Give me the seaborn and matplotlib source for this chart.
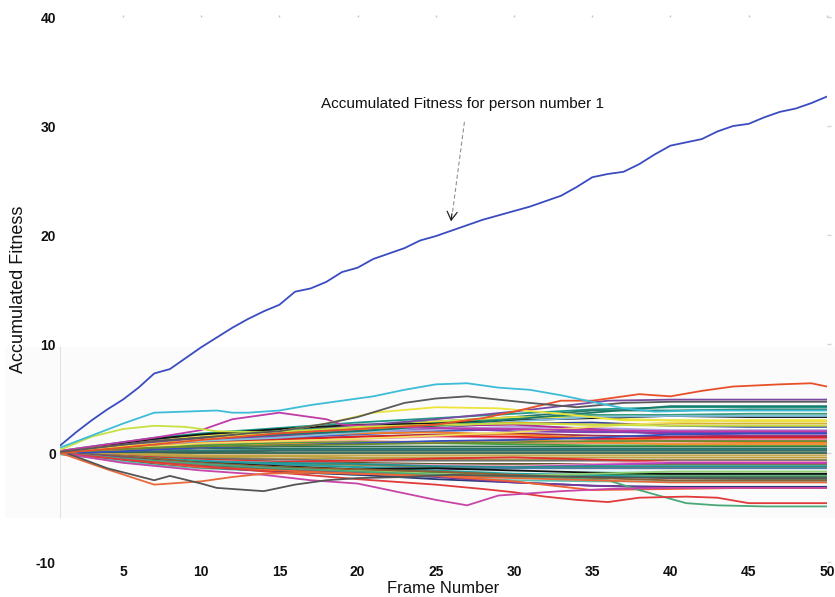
import matplotlib
matplotlib.use("Agg")
import matplotlib.pyplot as plt
from matplotlib.patches import Rectangle
import pandas as pd
import seaborn as sns

# ---- person 1: accumulated fitness for every frame ----
frames_all = list(range(1, 51))
person1_fitness = [0.7, 1.9, 3.0, 4.0, 4.9, 6.0, 7.3, 7.7, 8.7, 9.7,
                   10.6, 11.5, 12.3, 13.0, 13.6, 14.8, 15.1, 15.7, 16.6, 17.0,
                   17.8, 18.3, 18.8, 19.5, 19.9, 20.4, 20.9, 21.4, 21.8, 22.2,
                   22.6, 23.1, 23.6, 24.4, 25.3, 25.6, 25.8, 26.5, 27.4, 28.2,
                   28.5, 28.8, 29.5, 30.0, 30.2, 30.8, 31.3, 31.6, 32.1, 32.7]

# ---- people that stand out from the crowd ----
cyan_frames = [1, 3, 5, 7, 9, 11, 12, 13, 15, 17, 19, 21, 23, 25, 27, 29, 31, 33, 35, 37, 39, 42, 46, 50]
cyan_values = [0.5, 1.6, 2.7, 3.7, 3.8, 3.9, 3.7, 3.7, 3.9, 4.4, 4.8, 5.2, 5.8, 6.3, 6.4, 6.0, 5.8, 5.3, 4.7, 4.1, 3.8, 3.9, 3.9, 3.9]

gray_top_frames = [1, 4, 7, 10, 13, 15, 18, 20, 23, 25, 27, 29, 31, 34, 37, 40, 45, 50]
gray_top_values = [0.1, 0.6, 1.1, 1.4, 1.8, 2.0, 2.7, 3.3, 4.6, 5.0, 5.2, 4.9, 4.6, 4.2, 4.6, 4.7, 4.7, 4.7]

red_top_frames = [1, 5, 10, 15, 20, 25, 28, 30, 33, 35, 36, 38, 40, 42, 44, 47, 49, 50]
red_top_values = [0.0, 0.5, 1.2, 1.8, 2.2, 2.6, 3.2, 3.8, 4.8, 4.8, 5.0, 5.4, 5.2, 5.7, 6.1, 6.3, 6.4, 6.1]

lime_frames = [1, 3, 5, 7, 9, 11, 14, 17, 20, 25, 30, 35, 40, 45, 50]
lime_values = [0.3, 1.5, 2.2, 2.5, 2.4, 2.0, 1.9, 2.1, 2.4, 2.6, 2.7, 2.6, 2.5, 2.5, 2.5]

yellow_frames = [1, 5, 10, 15, 18, 21, 25, 29, 33, 37, 40, 45, 50]
yellow_values = [0.0, 0.6, 1.2, 2.0, 2.7, 3.7, 4.2, 4.1, 3.6, 3.0, 3.0, 3.0, 3.0]

magenta_top_frames = [1, 4, 7, 10, 12, 15, 18, 19, 22, 25, 30, 35, 40, 45, 50]
magenta_top_values = [0.2, 0.8, 1.4, 2.1, 3.1, 3.7, 3.1, 2.6, 2.4, 2.3, 2.2, 2.1, 2.0, 2.0, 2.0]

purple_top_frames = [1, 5, 10, 15, 20, 25, 30, 33, 36, 40, 45, 50]
purple_top_values = [0.0, 0.7, 1.3, 1.8, 2.5, 3.1, 3.8, 4.3, 4.8, 4.9, 4.9, 4.9]

gray_low_frames = [1, 4, 7, 8, 10, 11, 14, 16, 18, 20, 23, 26, 30, 35, 40, 45, 50]
gray_low_values = [0.2, -1.4, -2.5, -2.1, -2.8, -3.2, -3.5, -2.9, -2.5, -2.3, -2.2, -2.0, -2.1, -2.2, -2.3, -2.3, -2.3]

orange_low_frames = [1, 4, 7, 10, 12, 14, 17, 20, 25, 30, 35, 40, 45, 50]
orange_low_values = [0.0, -1.5, -2.9, -2.6, -2.2, -1.9, -1.8, -1.9, -2.1, -2.3, -2.5, -2.7, -2.7, -2.7]

magenta_low_frames = [1, 5, 10, 14, 17, 20, 23, 25, 27, 29, 31, 33, 36, 40, 45, 50]
magenta_low_values = [0.0, -0.9, -1.6, -2.0, -2.5, -2.8, -3.7, -4.3, -4.8, -3.9, -3.7, -3.5, -3.3, -3.2, -3.2, -3.2]

red_low_frames = [1, 5, 10, 15, 20, 25, 28, 30, 32, 34, 36, 38, 41, 43, 45, 48, 50]
red_low_values = [0.0, -0.6, -1.2, -1.8, -2.4, -2.9, -3.3, -3.6, -4.0, -4.3, -4.5, -4.1, -4.0, -4.1, -4.6, -4.6, -4.6]

green_low_frames = [1, 5, 10, 15, 20, 25, 30, 33, 36, 38, 40, 41, 43, 46, 50]
green_low_values = [0.0, -0.5, -1.0, -1.4, -1.7, -2.0, -2.2, -2.3, -2.5, -3.4, -4.2, -4.6, -4.8, -4.9, -4.9]

# ---- the rest of the population, sampled every few frames ----
key_frames = [1, 4, 7, 10, 15, 20, 25, 30, 35, 40, 45, 50]

upper_band = [
    [0.2, 0.8, 1.4, 1.8, 2.3, 2.8, 3.2, 3.6, 4.0, 4.2, 4.2, 4.2],
    [0.1, 0.6, 1.2, 1.6, 2.0, 2.5, 2.9, 3.3, 3.9, 3.9, 4.0, 4.0],
    [0.0, 0.5, 1.0, 1.5, 2.1, 2.4, 2.8, 3.2, 3.5, 3.5, 3.6, 3.6],
    [0.2, 0.7, 1.1, 1.6, 1.9, 2.3, 2.9, 3.3, 3.2, 3.0, 2.9, 2.9],
    [0.1, 0.6, 1.0, 1.3, 1.7, 2.0, 2.4, 2.7, 2.8, 2.5, 2.4, 2.4],
    [0.0, 0.4, 0.9, 1.2, 1.5, 1.8, 2.2, 2.4, 2.3, 2.1, 2.1, 2.1],
    [0.2, 0.5, 0.8, 1.1, 1.4, 1.7, 2.0, 2.2, 2.0, 1.8, 1.8, 1.8],
    [0.1, 0.7, 1.3, 1.7, 2.2, 2.6, 2.7, 3.0, 3.2, 3.4, 3.3, 3.3],
    [0.0, 0.6, 1.1, 1.4, 1.8, 2.2, 2.5, 2.6, 2.2, 1.7, 1.6, 1.6],
    [0.1, 0.4, 0.8, 1.0, 1.3, 1.5, 1.7, 1.8, 1.6, 1.5, 1.5, 1.5],
    [0.0, 0.3, 0.7, 0.9, 1.1, 1.3, 1.5, 1.4, 1.3, 1.2, 1.2, 1.2],
    [0.1, 0.3, 0.6, 0.8, 1.0, 1.1, 1.0, 0.9, 0.9, 0.9, 0.9, 0.9],
    [0.2, 0.6, 0.9, 1.2, 1.6, 1.8, 1.9, 1.7, 1.4, 1.1, 1.0, 1.0],
    [0.0, 0.4, 0.6, 0.9, 1.2, 1.5, 1.6, 1.5, 1.3, 1.4, 1.4, 1.4],
    [0.1, 0.5, 0.9, 1.2, 1.6, 2.0, 2.3, 2.0, 1.9, 1.9, 1.9, 1.9],
    [0.0, 0.3, 0.6, 0.7, 0.9, 1.0, 0.9, 0.8, 0.7, 0.7, 0.7, 0.7],
    [0.1, 0.5, 0.8, 1.1, 1.4, 1.9, 2.4, 2.9, 3.3, 3.4, 3.4, 3.4],
    [0.0, 0.4, 0.8, 1.3, 1.8, 2.2, 2.5, 2.8, 2.6, 2.7, 2.7, 2.7],
    [0.0, 0.3, 0.6, 0.9, 1.1, 1.3, 1.6, 1.9, 2.4, 2.8, 3.0, 3.0],
    [0.0, 0.4, 0.9, 1.3, 1.7, 2.0, 2.5, 3.1, 3.7, 4.3, 4.3, 4.3],
    [0.0, 0.2, 0.3, 0.5, 0.8, 0.9, 1.0, 1.2, 1.0, 0.8, 0.8, 0.8],
    [0.0, 0.1, 0.3, 0.5, 0.7, 0.9, 1.1, 1.2, 1.4, 1.7, 1.8, 1.8],
    [0.1, 0.3, 0.5, 0.6, 0.7, 0.8, 0.9, 1.0, 1.1, 1.1, 1.1, 1.1],
]
upper_colors = ["#1f9a8a", "#2a7a6a", "#3a9a7a", "#e6e040", "#3040a0", "#b0a0e0",
                "#4060c8", "#151515", "#b03090", "#a03050", "#e880b0", "#f09070",
                "#f08020", "#e02020", "#8040b0", "#40a040", "#80c0e0", "#d8b030",
                "#f0e060", "#1a7a6a", "#f09030", "#3050c0", "#6a8a30"]

core_band = [
    [0.0, 0.2, 0.4, 0.5, 0.6, 0.6, 0.6, 0.6, 0.6, 0.6, 0.6, 0.6],
    [0.1, 0.2, 0.3, 0.4, 0.4, 0.4, 0.4, 0.4, 0.4, 0.4, 0.4, 0.4],
    [0.0, 0.1, 0.2, 0.2, 0.3, 0.3, 0.3, 0.3, 0.3, 0.3, 0.3, 0.3],
    [0.0, 0.1, 0.1, 0.1, 0.2, 0.2, 0.2, 0.2, 0.2, 0.2, 0.2, 0.2],
    [0.0, 0.0, 0.0, 0.0, 0.0, 0.0, 0.0, 0.0, 0.0, 0.0, 0.0, 0.0],
    [0.0, -0.1, -0.1, -0.2, -0.2, -0.2, -0.2, -0.2, -0.2, -0.2, -0.2, -0.2],
    [0.0, -0.1, -0.2, -0.3, -0.3, -0.4, -0.4, -0.4, -0.4, -0.4, -0.4, -0.4],
    [0.0, -0.2, -0.3, -0.4, -0.5, -0.5, -0.6, -0.6, -0.6, -0.6, -0.6, -0.6],
    [0.0, -0.2, -0.4, -0.5, -0.6, -0.7, -0.7, -0.7, -0.7, -0.7, -0.7, -0.7],
    [-0.1, -0.3, -0.5, -0.6, -0.8, -0.9, -1.0, -1.0, -1.0, -1.0, -1.0, -1.0],
    [0.0, -0.2, -0.4, -0.6, -0.8, -0.7, -0.5, -0.4, -0.6, -0.8, -0.9, -0.9],
    [0.0, -0.2, -0.5, -0.7, -0.9, -1.0, -1.1, -1.2, -1.0, -0.8, -0.8, -0.8],
    [0.0, -0.3, -0.7, -1.1, -1.4, -1.6, -1.6, -1.3, -1.1, -0.9, -0.9, -0.9],
    [0.0, -0.3, -0.6, -0.8, -1.0, -1.1, -1.3, -1.3, -1.3, -1.3, -1.3, -1.3],
]
core_colors = ["#2a6a50", "#2f6f5a", "#2a8080", "#3a6a60", "#306050", "#c8a850",
               "#c0a040", "#b89a40", "#707070", "#5a5a30", "#e03030", "#f0a0c0",
               "#c040c0", "#8a8a40"]

lower_band = [
    [0.0, -0.3, -0.5, -0.8, -0.9, -1.0, -1.2, -1.3, -1.2, -1.2, -1.2, -1.2],
    [0.0, -0.4, -0.7, -0.9, -1.1, -1.3, -1.4, -1.4, -1.4, -1.4, -1.4, -1.4],
    [0.0, -0.4, -0.8, -1.0, -1.2, -1.4, -1.6, -1.7, -1.7, -1.7, -1.7, -1.7],
    [0.0, -0.5, -0.9, -1.1, -1.4, -1.6, -1.8, -2.0, -2.0, -2.0, -2.0, -2.0],
    [-0.1, -0.5, -1.0, -1.3, -1.5, -1.8, -2.0, -2.2, -2.2, -2.2, -2.2, -2.2],
    [-0.1, -0.6, -1.1, -1.4, -1.7, -2.0, -2.2, -2.5, -2.6, -2.6, -2.6, -2.6],
    [0.1, -0.2, -0.5, -0.7, -1.0, -1.3, -1.6, -1.9, -2.0, -2.3, -2.4, -2.4],
    [0.0, -0.3, -0.6, -0.9, -1.2, -1.5, -1.4, -1.6, -1.8, -1.9, -1.9, -1.9],
    [0.0, -0.3, -0.7, -1.0, -1.3, -1.6, -1.9, -2.1, -1.9, -1.7, -1.7, -1.7],
    [0.0, -0.2, -0.5, -0.9, -1.3, -1.5, -1.7, -2.0, -2.3, -2.5, -2.5, -2.5],
    [0.0, -0.4, -0.9, -1.3, -1.7, -2.0, -2.4, -2.7, -3.0, -3.1, -3.1, -3.1],
    [0.0, -0.3, -0.7, -1.0, -1.4, -1.8, -2.2, -2.7, -3.0, -3.2, -3.2, -3.2],
    [0.0, -0.4, -0.9, -1.3, -1.6, -1.9, -2.1, -2.6, -3.4, -3.3, -3.2, -3.2],
]
lower_colors = ["#209090", "#4a80a8", "#c8f0f0", "#308a50", "#2a8050", "#60c0b0",
                "#20a0a0", "#101010", "#90d070", "#906030", "#283878", "#7a3aa0",
                "#f06030"]

# ---- assemble a long-form table, one row per person and frame ----
rows, palette, order = [], {}, []


def add_person(name, frames, values, colour):
    for f, v in zip(frames, values):
        rows.append({"person": name, "frame": f, "fitness": v})
    palette[name] = colour
    order.append(name)


pid = 2
for band, colours in ((core_band, core_colors), (lower_band, lower_colors), (upper_band, upper_colors)):
    for values, colour in zip(band, colours):
        add_person(f"person {pid}", key_frames, values, colour)
        pid += 1

highlighted = [
    (green_low_frames, green_low_values, "#4aa878"),
    (red_low_frames, red_low_values, "#e03a3a"),
    (magenta_low_frames, magenta_low_values, "#c845a8"),
    (orange_low_frames, orange_low_values, "#e86a3a"),
    (gray_low_frames, gray_low_values, "#555555"),
    (purple_top_frames, purple_top_values, "#7a4aa0"),
    (magenta_top_frames, magenta_top_values, "#c03aa8"),
    (yellow_frames, yellow_values, "#ece43a"),
    (lime_frames, lime_values, "#c8e040"),
    (red_top_frames, red_top_values, "#e8502a"),
    (gray_top_frames, gray_top_values, "#5a5a5a"),
    (cyan_frames, cyan_values, "#3cbcd8"),
]
for frames, values, colour in highlighted:
    add_person(f"person {pid}", frames, values, colour)
    pid += 1

add_person("person 1", frames_all, person1_fitness, "#3a4cc0")

df = pd.DataFrame(rows)

# ---- figure ----
sns.set_theme(style="white")
plt.rcParams["font.family"] = ["Liberation Sans", "DejaVu Sans"]
plt.rcParams["axes.unicode_minus"] = False

fig = plt.figure(figsize=(8.35, 5.97), dpi=100)
fig.patches.append(Rectangle((5 / 835, 1 - 518 / 597), 830 / 835, 171 / 597,
                             transform=fig.transFigure, facecolor="#fbfbfb",
                             edgecolor="none", zorder=-1))
ax = fig.add_axes([0.0723, 0.0586, 0.918, 0.9129])
ax.set_facecolor("none")

ax.axvline(1, ymin=0.08, ymax=0.394, color="#dcdcdc", lw=1.2, zorder=0)

sns.lineplot(data=df, x="frame", y="fitness", hue="person", hue_order=order,
             palette=palette, estimator=None, sort=False, legend=False,
             linewidth=1.3, ax=ax)

ax.set_xlim(1, 50)
ax.set_ylim(-10, 40)
ax.set_xticks([5, 10, 15, 20, 25, 30, 35, 40, 45, 50])
ax.set_yticks([-10, 0, 10, 20, 30, 40])
for s in ax.spines.values():
    s.set_visible(False)

ax.tick_params(axis="x", bottom=False, top=True, labelbottom=True, labeltop=False,
               length=1.5, width=1, color="#c4c4c4", pad=0.8, labelsize=10,
               labelcolor="#111111")
ax.tick_params(axis="y", left=False, right=True, labelleft=True, labelright=False,
               length=3, width=1, color="#d4d4d4", pad=0.3, labelsize=10,
               labelcolor="#111111")
for lbl in ax.get_xticklabels() + ax.get_yticklabels():
    lbl.set_fontweight("bold")

ax.set_xlabel("Frame Number", fontsize=12, color="#111111")
ax.xaxis.set_label_coords(0.499, -0.034)
ax.set_ylabel("Accumulated Fitness", fontsize=13, color="#111111")
ax.yaxis.set_label_coords(-0.044, 0.501)

# callout for person 1
ax.text(26.7, 32.0, "Accumulated Fitness for person number 1", ha="center",
        va="center", fontsize=11, color="#111111")
ax.annotate("", xy=(26.05, 21.9), xytext=(26.85, 30.6),
            arrowprops=dict(arrowstyle="-", linestyle=(0, (3, 3)),
                            color="#909090", lw=0.8))
ax.annotate("", xy=(25.95, 21.0), xytext=(26.05, 22.2),
            arrowprops=dict(arrowstyle="->,head_length=0.5,head_width=0.3",
                            color="#222222", lw=0.9))

fig.savefig("out.png", dpi=100)
